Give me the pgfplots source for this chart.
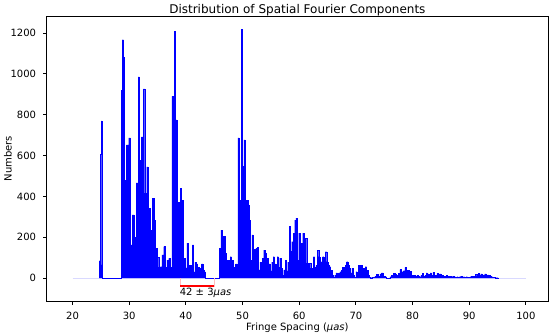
\documentclass[border=0pt]{standalone}
\usepackage{pgfplots}
\pgfplotsset{compat=1.18}
\usepackage{fontspec}
\setmainfont{DejaVu Sans}
\begin{document}
\begin{tikzpicture}
\begin{axis}[
  name=ax,
  scale only axis,
  width=501pt, height=285pt,
  xmin=15.45, xmax=103.9,
  ymin=-113, ymax=1283,
  xtick={20,30,...,100},
  ytick={0,200,...,1200},
  xtick pos=left, ytick pos=left,
  tick align=outside,
  major tick length=3.5pt,
  tick style={black, line width=0.8pt},
  axis line style={black, line width=0.8pt},
  /pgf/number format/assume math mode=true,
  /pgf/number format/1000 sep={},
  ticklabel style={font=\fontsize{10}{12}\selectfont},
  xticklabel style={anchor=base, inner sep=0pt, yshift=-15pt},
  yticklabel style={anchor=east, inner sep=0pt, xshift=-7pt},
  title={Distribution of Spatial Fourier Components},
  title style={at={(axis description cs:0.5,1)}, anchor=base, inner sep=0pt, yshift=-3pt, font=\fontsize{12}{14}\selectfont},
  xlabel={Fringe Spacing (\textit{μas})},
  xlabel style={at={(axis description cs:0.5,0)}, anchor=base, inner sep=0pt, yshift=-29.5pt, font=\fontsize{10}{12}\selectfont},
  ylabel={Numbers},
  ylabel style={at={(axis description cs:-0.0699,0.5)}, anchor=base, inner sep=0pt, font=\fontsize{10}{12}\selectfont},
]
\addplot[blue!15, line width=0.8pt] coordinates {(20,0) (100,0)};
\addplot[const plot, fill=blue, draw=blue, line width=0.25pt] coordinates {
(24.75,0)(24.75,85)(24.93,607)(25.05,770)(25.15,65)(25.30,0)
(28.63,918)(28.80,1167)(28.98,1082)(29.15,480)(29.51,652)(29.92,686)(30.21,162)(30.51,309)(30.86,200)(31.21,466)
(31.56,985)(31.80,578)(32.15,691)(32.50,926)(32.73,416)(33.08,544)(33.33,343)(33.68,235)(34.03,392)(34.38,284)
(34.61,147)(34.96,103)(35.20,54)(35.49,56)(35.78,113)(36.08,154)(36.37,52)(36.67,88)(36.96,96)(37.26,52)
(37.55,889)(37.72,529)(37.96,1207)(38.19,775)(38.43,220)(38.72,372)(39.01,441)(39.25,382)(39.48,54)(39.72,98)
(39.95,50)(40.19,171)(40.42,19)(40.66,64)(40.89,64)(41.13,162)(41.36,30)(41.60,78)(41.83,70)(42.07,54)
(42.30,50)(42.54,30)(42.77,70)(43.01,40)(43.24,30)(43.47,0)
(45.94,147)(46.17,235)(46.41,186)(46.64,203)(46.88,121)(47.11,64)(47.35,88)(47.58,64)(47.82,105)(48.05,88)
(48.29,54)(48.52,54)(48.76,70)(48.99,40)(49.17,686)(49.40,382)(49.75,1219)(49.99,546)(50.22,676)(50.46,147)
(50.69,382)(50.93,358)(51.16,284)(51.40,88)(51.63,211)(51.87,105)(52.10,142)(52.34,147)(52.57,150)(52.80,40)
(53.04,78)(53.27,70)(53.51,98)(53.74,137)(53.98,121)(54.21,98)(54.45,54)(54.68,70)(54.92,35)(55.15,78)
(55.39,105)(55.62,70)(55.86,64)(56.09,105)(56.33,54)(56.56,98)(56.80,47)(57.03,15)(57.27,40)(57.50,88)
(57.74,35)(57.97,78)(58.20,252)(58.44,130)(58.67,178)(58.96,220)(59.20,284)(59.43,294)(59.67,88)(59.90,220)
(60.14,73)(60.37,171)(60.61,220)(60.84,88)(61.08,196)(61.31,73)(61.55,49)(61.78,73)(62.02,49)(62.25,39)
(62.49,105)(62.72,54)(62.96,62)(63.19,137)(63.43,105)(63.66,64)(63.90,80)(64.13,105)(64.37,80)(64.60,129)
(64.84,80)(65.07,64)(65.31,56)(65.54,39)(65.78,15)(66.01,5)(66.25,15)(66.48,25)(66.72,15)(66.95,25)
(67.19,31)(67.42,39)(67.66,54)(67.89,49)(68.13,64)(68.36,80)(68.60,62)(68.83,49)(69.07,25)(69.30,49)
(69.54,15)(69.77,5)(70.01,31)(70.24,25)(70.48,64)(70.71,39)(70.95,64)(71.18,49)(71.42,25)(71.65,56)
(71.89,39)(72.12,15)(72.36,5)(72.59,2)(72.83,5)(73.06,3)(73.35,10)(73.64,18)(73.94,10)(74.23,20)
(74.52,26)(74.82,10)(75.11,7)(75.40,0)(75.99,7)(76.28,15)(76.58,23)(76.87,20)(77.16,15)(77.46,23)
(77.75,42)(77.93,20)(78.16,31)(78.40,36)(78.63,52)(78.87,31)(79.10,39)(79.34,26)(79.57,33)(79.81,15)
(80.04,10)(80.28,13)(80.51,10)(80.75,15)(80.98,10)(81.22,7)(81.45,15)(81.69,23)(81.92,10)(82.16,15)
(82.39,26)(82.63,20)(82.86,15)(83.10,26)(83.33,15)(83.57,28)(83.80,10)(84.04,15)(84.27,23)(84.51,10)
(84.74,20)(84.98,10)(85.21,15)(85.45,10)(85.68,7)(85.92,13)(86.15,10)(86.39,7)(86.62,10)(86.86,7)
(87.09,10)(87.33,7)(87.56,5)(87.80,7)(88.03,3)(88.27,7)(88.50,10)(88.74,5)(88.97,7)(89.21,5)
(89.44,7)(89.68,5)(89.91,3)(90.15,7)(90.38,10)(90.62,5)(90.85,10)(91.09,18)(91.32,11)(91.56,23)
(91.79,15)(92.03,21)(92.26,15)(92.50,16)(92.73,21)(92.97,15)(93.20,16)(93.44,13)(93.67,10)(93.91,7)
(94.14,5)(94.38,3)(94.61,2)(95.08,0)
};
\addplot[red!25, line width=0.6pt] coordinates {(39,0) (39,-39) (45,-39) (45,0)};
\addplot[red, line width=1.5pt] coordinates {(39,-39) (45,-39)};
\node[anchor=west, inner sep=0pt, font=\fontsize{10}{12}\selectfont] at (axis cs:38.9,-73) {42 ± 3\textit{μas}};
\end{axis}
\pgfresetboundingbox
\path[use as bounding box] ([xshift=-46.7pt,yshift=-34pt]ax.south west) rectangle ([xshift=2pt,yshift=16pt]ax.north east);
\end{tikzpicture}
\end{document}
